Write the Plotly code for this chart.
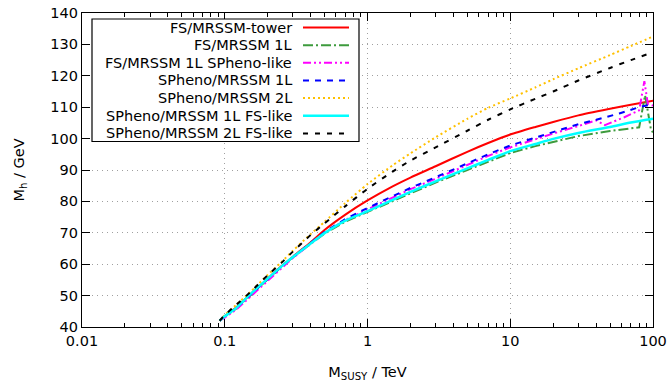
import plotly.graph_objects as go

# ---------------- data ----------------
x_tower = [0.092, 0.1, 0.12, 0.15, 0.2, 0.25, 0.3, 0.4, 0.5, 0.7, 1, 1.5, 2, 3, 5, 7, 10, 15, 20, 30, 50, 70, 100]
y_tower = [42, 43.5, 46.2, 50.3, 55.4, 59.4, 62.4, 67, 70.9, 75.8, 80.3, 84.8, 87.6, 91.2, 95.8, 98.6, 101.3, 103.7, 105.3, 107.4, 109.5, 110.8, 112.1]

x_fs1l = [0.092, 0.1, 0.12, 0.15, 0.2, 0.25, 0.3, 0.4, 0.5, 0.7, 1, 1.5, 2, 3, 5, 7, 10, 15, 20, 30, 50, 70, 80, 88, 97, 100]
y_fs1l = [42, 43.3, 45.8, 50, 55.2, 59.2, 62.2, 66.5, 69.7, 73.6, 76.6, 80.2, 82.6, 86, 90, 92.7, 95.4, 97.6, 99, 100.8, 102.4, 103.3, 103.6, 113.8, 102.6, 102]

x_fs1lsp = [0.092, 0.1, 0.12, 0.15, 0.2, 0.25, 0.3, 0.4, 0.5, 0.7, 1, 1.5, 2, 3, 5, 7, 10, 15, 20, 30, 40, 46, 63, 80, 87, 92, 100]
y_fs1lsp = [42, 43, 45.5, 49.6, 54.8, 58.9, 62, 66.5, 70, 74.1, 77.5, 81.3, 83.9, 87.2, 91.7, 94.5, 97.2, 99.9, 101.6, 104, 105.8, 104.3, 106.8, 109, 118.3, 111, 110.5]

x_sp1l = [0.092, 0.1, 0.12, 0.15, 0.2, 0.25, 0.3, 0.4, 0.5, 0.7, 1, 1.5, 2, 3, 5, 7, 10, 15, 20, 30, 40, 58, 80, 100]
y_sp1l = [42, 43.4, 46, 50.2, 55.3, 59.3, 62.3, 66.8, 70.2, 74.4, 77.9, 81.7, 84.3, 87.7, 92.2, 95, 97.8, 100.4, 102.2, 104.6, 106, 108, 110, 111]

x_sp2l = [0.092, 0.1, 0.12, 0.15, 0.2, 0.25, 0.3, 0.4, 0.5, 0.7, 1, 1.5, 2, 3, 5, 7, 10, 15, 20, 30, 50, 70, 100]
y_sp2l = [42, 43.8, 47, 51, 56.6, 60.7, 64.3, 69.6, 73.5, 79.5, 85.5, 91.5, 95.3, 100.4, 106.3, 109.8, 112.8, 116.3, 118.9, 122.4, 126.6, 129.5, 132.5]

x_sp1lfs = [0.092, 0.1, 0.12, 0.15, 0.2, 0.25, 0.3, 0.4, 0.5, 0.7, 1, 1.5, 2, 3, 5, 7, 10, 15, 20, 30, 50, 70, 100]
y_sp1lfs = [42, 43.4, 46, 50.3, 55.4, 59.3, 62.3, 66.6, 69.9, 73.9, 76.9, 80.5, 83, 86.4, 90.5, 93.2, 96, 98.3, 99.9, 101.8, 103.7, 105.1, 106.3]

x_sp2lfs = [0.092, 0.1, 0.12, 0.15, 0.2, 0.25, 0.3, 0.4, 0.5, 0.7, 1, 1.5, 2, 3, 5, 7, 10, 15, 20, 30, 50, 70, 100]
y_sp2lfs = [42, 43.8, 47, 51, 56.5, 60.5, 64, 69.3, 73, 78.5, 84, 89.5, 93, 97.2, 102.5, 106, 109.3, 112.7, 115, 118.5, 122.5, 125, 127.5]

names = ["FS/MRSSM-tower", "FS/MRSSM 1L", "FS/MRSSM 1L SPheno-like", "SPheno/MRSSM 1L",
         "SPheno/MRSSM 2L", "SPheno/MRSSM 1L FS-like", "SPheno/MRSSM 2L FS-like"]
xs = [x_tower, x_fs1l, x_fs1lsp, x_sp1l, x_sp2l, x_sp1lfs, x_sp2lfs]
ys = [y_tower, y_fs1l, y_fs1lsp, y_sp1l, y_sp2l, y_sp1lfs, y_sp2lfs]

x_tickvals = [0.01, 0.1, 1, 10, 100]
x_ticktext = ["0.01", "0.1", "1", "10", "100"]
x_minor_vals = [m * d for d in [0.01, 0.1, 1, 10] for m in range(2, 10)]

# ---------------- styles ----------------
colors = ["#ff0000", "#3d9b3d", "#ff00ff", "#0000ff", "#ffc000", "#00ffff", "#000000"]
dashes = ["solid", "10px,3px,2px,3px", "8px,3px,2px,3px,2px,3px", "6px,6px", "2px,3px", "solid", "5px,7px"]
widths = [2, 2, 2, 2, 2, 2.5, 2]
shapes_line = ["spline", "linear", "linear", "linear", "spline", "spline", "spline"]

FONT = "DejaVu Sans"

fig = go.Figure()
for n, x, y, c, d, w, s in zip(names, xs, ys, colors, dashes, widths, shapes_line):
    fig.add_trace(go.Scatter(x=x, y=y, mode="lines", name=n, showlegend=False,
                             line=dict(color=c, dash=d, width=w, shape=s, smoothing=0.6)))

# plot area in pixels: x 82..653, y 13..327
W, H = 670, 382
L, R, T, B = 82, 17, 13, 55
pw, ph = W - L - R, H - T - B

def px(xp):
    return (xp - L) / pw

def py(yp):
    return (H - B - yp) / ph

shapes = []
annotations = []
# legend box
shapes.append(dict(type="rect", xref="paper", yref="paper",
                   x0=px(92), x1=px(359), y0=py(141.5), y1=py(19),
                   line=dict(color="black", width=1.2), fillcolor="white", layer="above"))
row0, step = 27.5, 17.65
for i, (n, c, d, w) in enumerate(zip(names, colors, dashes, widths)):
    yy = py(row0 + i * step)
    annotations.append(dict(xref="paper", yref="paper", x=px(294), y=yy, text=n,
                            showarrow=False, xanchor="right", yanchor="middle",
                            font=dict(family=FONT, size=14.5, color="black")))
    shapes.append(dict(type="line", xref="paper", yref="paper",
                       x0=px(303), x1=px(349), y0=yy, y1=yy,
                       line=dict(color=c, dash=d, width=w), layer="above"))

fig.update_layout(
    width=W, height=H,
    margin=dict(l=L, r=R, t=T, b=B, autoexpand=False),
    plot_bgcolor="white", paper_bgcolor="white",
    font=dict(family=FONT, size=14.5, color="black"),
    shapes=shapes, annotations=annotations,
    showlegend=False,
)
fig.update_xaxes(
    type="log", range=[-2, 2], automargin=False,
    tickvals=x_tickvals, ticktext=x_ticktext,
    ticks="inside", ticklen=8, tickcolor="black",
    showline=True, linecolor="black", linewidth=1.2, mirror="ticks",
    showgrid=True, gridcolor="#a0a0a0", griddash="1px,4px", gridwidth=1,
    minor=dict(tickvals=x_minor_vals, ticks="inside", ticklen=4, tickcolor="black", showgrid=False),
    title=dict(text="M<sub>SUSY</sub> / TeV", font=dict(family=FONT, size=14.5), standoff=20),
    zeroline=False,
)
fig.update_yaxes(
    range=[40, 140], dtick=10, tick0=40, automargin=False,
    ticks="inside", ticklen=8, tickcolor="black",
    showline=True, linecolor="black", linewidth=1.2, mirror="ticks",
    showgrid=True, gridcolor="#a0a0a0", griddash="1px,4px", gridwidth=1,
    title=dict(text="M<sub>h</sub> / GeV", font=dict(family=FONT, size=14.5), standoff=22),
    zeroline=False,
)

fig.write_html("out.html")
